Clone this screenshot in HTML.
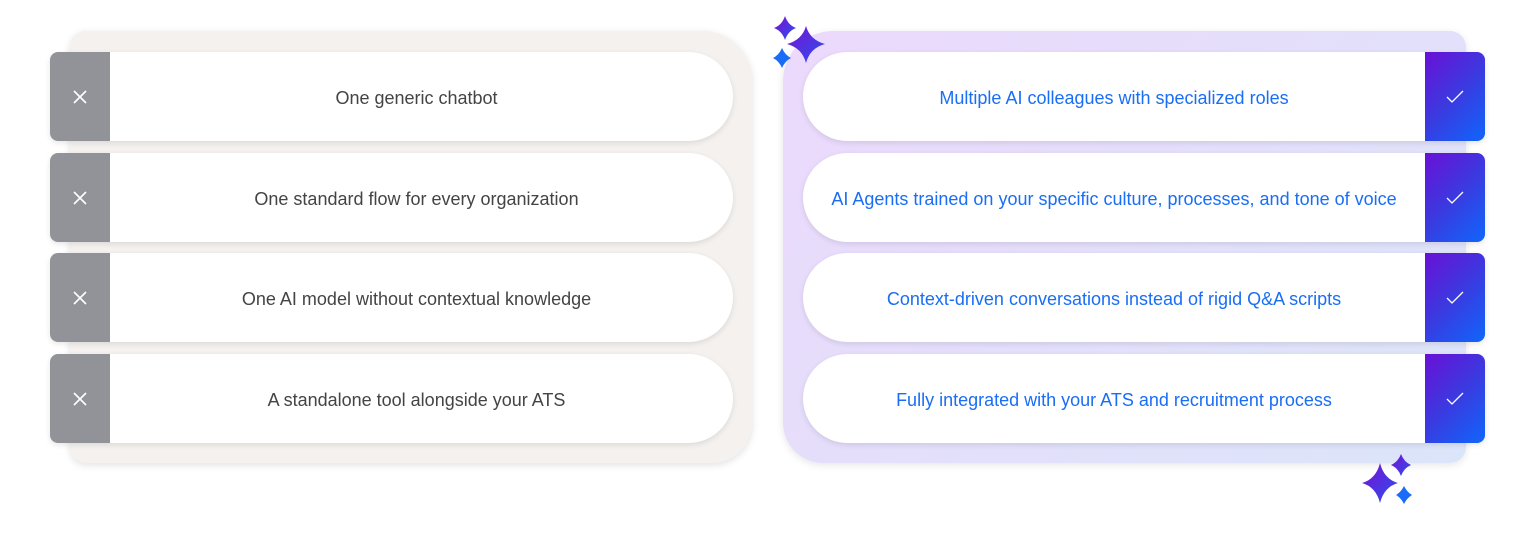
<!DOCTYPE html>
<html><head><style>
body{margin:0;width:1536px;height:536px;background:#fff;position:relative;overflow:hidden;font-family:"Liberation Sans",sans-serif;}
.lp{position:absolute;left:70px;top:31px;width:682px;height:432px;background:#f4f1ee;border-radius:16px 50px 40px 16px;box-shadow:0 2px 8px rgba(0,0,0,.12);}
.rp{position:absolute;left:783px;top:31px;width:683px;height:432px;background:linear-gradient(135deg,#ecd9fc,#dbe5f9);border-radius:50px 16px 16px 40px;box-shadow:0 2px 8px rgba(0,0,0,.1);}
.row{position:absolute;height:89px;display:flex;align-items:center;font-size:18px;}
.l{left:50px;width:683px;background:#fff;border-radius:8px 45px 45px 8px;box-shadow:0 2px 6px rgba(0,0,0,.1);color:#444;}
.l .ic{width:60px;height:100%;background:#929398;border-radius:8px 0 0 8px;display:flex;align-items:center;justify-content:center;}
.t{flex:1;text-align:center;padding-top:4px}
.l .t{padding-right:10px}
.r{left:803px;width:682px;background:#fff;border-radius:45px 8px 8px 45px;box-shadow:0 2px 6px rgba(0,0,0,.1);color:#1a6ef5;}
.r .ic{width:60px;height:100%;background:linear-gradient(135deg,#6a10d6,#3a3ae0 50%,#0f66fb);border-radius:0 8px 8px 0;display:flex;align-items:center;justify-content:center;}
.ic svg{position:static}
svg{position:absolute}
</style></head><body>
<div class="lp"></div><div class="rp"></div>
<div class="row l" style="top:52px"><div class="ic"><svg width="16" height="16"><path d="M2 2L14 14M14 2L2 14" stroke="#fff" stroke-width="1.6"/></svg></div><div class="t">One generic chatbot</div></div>
<div class="row l" style="top:153px"><div class="ic"><svg width="16" height="16"><path d="M2 2L14 14M14 2L2 14" stroke="#fff" stroke-width="1.6"/></svg></div><div class="t">One standard flow for every organization</div></div>
<div class="row l" style="top:253px"><div class="ic"><svg width="16" height="16"><path d="M2 2L14 14M14 2L2 14" stroke="#fff" stroke-width="1.6"/></svg></div><div class="t">One AI model without contextual knowledge</div></div>
<div class="row l" style="top:354px"><div class="ic"><svg width="16" height="16"><path d="M2 2L14 14M14 2L2 14" stroke="#fff" stroke-width="1.6"/></svg></div><div class="t">A standalone tool alongside your ATS</div></div>
<div class="row r" style="top:52px"><div class="t">Multiple AI colleagues with specialized roles</div><div class="ic"><svg width="18" height="14"><path d="M1 7L6 12L17 1" fill="none" stroke="#fff" stroke-width="1.3"/></svg></div></div>
<div class="row r" style="top:153px"><div class="t">AI Agents trained on your specific culture, processes, and tone of voice</div><div class="ic"><svg width="18" height="14"><path d="M1 7L6 12L17 1" fill="none" stroke="#fff" stroke-width="1.3"/></svg></div></div>
<div class="row r" style="top:253px"><div class="t">Context-driven conversations instead of rigid Q&amp;A scripts</div><div class="ic"><svg width="18" height="14"><path d="M1 7L6 12L17 1" fill="none" stroke="#fff" stroke-width="1.3"/></svg></div></div>
<div class="row r" style="top:354px"><div class="t">Fully integrated with your ATS and recruitment process</div><div class="ic"><svg width="18" height="14"><path d="M1 7L6 12L17 1" fill="none" stroke="#fff" stroke-width="1.3"/></svg></div></div>
<svg width="1536" height="536" style="left:0;top:0">
<defs><linearGradient id="g" x1="0" y1="0" x2="1" y2="1"><stop offset="0" stop-color="#7a10d0"/><stop offset="1" stop-color="#2a50f0"/></linearGradient></defs>
<g fill="url(#g)">
<path d="M785 16 Q788 25 796 28 Q788 31 785 40 Q782 31 774 28 Q782 25 785 16Z"/>
<path d="M806 26 Q810 40 825 44 Q810 48 806 63 Q802 48 787 44 Q802 40 806 26Z"/>
<path d="M1401 454 Q1404 462 1411 465 Q1404 468 1401 476 Q1398 468 1391 465 Q1398 462 1401 454Z"/>
<path d="M1380 463 Q1384 479 1398 483 Q1384 487 1380 503 Q1376 487 1362 483 Q1376 479 1380 463Z"/>
</g>
<g fill="#1a6cf7">
<path d="M782 48 Q785 55 791 58 Q785 61 782 68 Q779 61 773 58 Q779 55 782 48Z"/>
<path d="M1404 486 Q1407 492 1412 495 Q1407 498 1404 504 Q1401 498 1396 495 Q1401 492 1404 486Z"/>
</g>
</svg>
</body></html>
